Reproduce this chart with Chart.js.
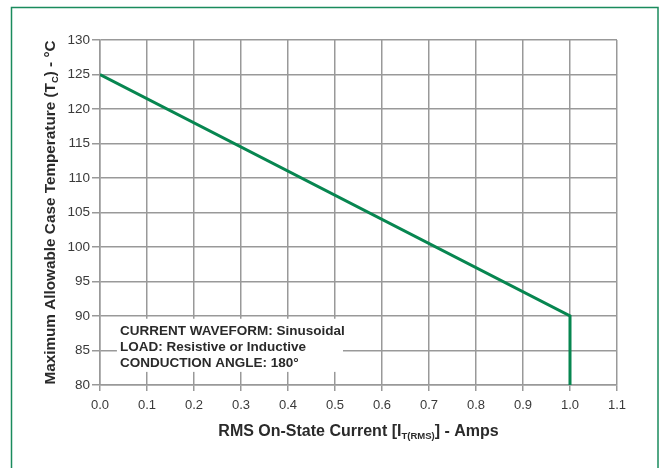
<!DOCTYPE html>
<html>
<head>
<meta charset="utf-8">
<script src="https://cdn.jsdelivr.net/npm/chart.js@4"></script>
<style>
  html, body { margin: 0; padding: 0; background: #fff; }
  #wrap { width: 662px; height: 468px; }
</style>
</head>
<body>
<div id="wrap"><canvas id="chart" width="662" height="468"></canvas></div>
<script>
// Curve: case temperature vs RMS on-state current
const currentAmps = [0.0, 1.0, 1.0];
const caseTempC = [125, 90, 80];

// Axis ranges
const xRange = [0, 1.1];
const yRange = [80, 130];

// Notes printed inside the plot
const noteLines = [
  "CURRENT WAVEFORM: Sinusoidal",
  "LOAD: Resistive or Inductive",
  "CONDUCTION ANGLE: 180°",
];

const gridColor = "#999999";
const curveColor = "#078650";
const frameColor = "#1a8b5d";
const font = "'Liberation Sans', Arial, Helvetica, sans-serif";

// draw text runs with subscript parts: [[text, isSub], ...]
function runsWidth(ctx, runs, size, subSize) {
  let w = 0;
  runs.forEach(([t, sub]) => {
    ctx.font = "bold " + (sub ? subSize : size) + "px " + font;
    w += ctx.measureText(t).width;
  });
  return w;
}
function drawRuns(ctx, runs, x, y, size, subSize) {
  runs.forEach(([t, sub]) => {
    ctx.font = "bold " + (sub ? subSize : size) + "px " + font;
    ctx.fillText(t, x, sub ? y + 4 : y);
    x += ctx.measureText(t).width;
  });
}

const decorations = {
  id: "decorations",
  beforeDraw(chart) {
    const ctx = chart.ctx;
    ctx.save();
    ctx.strokeStyle = frameColor;
    ctx.lineWidth = 1.5;
    ctx.strokeRect(11.5, 7.5, 646.5, 480);
    ctx.restore();
  },
  beforeDatasetsDraw(chart) {
    const ctx = chart.ctx;
    const xs = chart.scales.x, ys = chart.scales.y;
    // white note box over the grid
    const left = xs.getPixelForValue(0.036);
    const right = xs.getPixelForValue(0.517);
    const top = ys.getPixelForValue(89.6);
    const bottom = ys.getPixelForValue(81.9);
    ctx.save();
    ctx.fillStyle = "#fff";
    ctx.fillRect(left, top, right - left, bottom - top);
    ctx.fillStyle = "#2a2a2a";
    ctx.font = "bold 13.5px " + font;
    ctx.textBaseline = "middle";
    noteLines.forEach((t, i) => ctx.fillText(t, left + 3, top + 12.5 + i * 16));
    ctx.restore();
  },
  afterDraw(chart) {
    const ctx = chart.ctx;
    const a = chart.chartArea;
    ctx.save();
    ctx.fillStyle = "#2a2a2a";
    ctx.textBaseline = "middle";
    // x axis title
    const xRuns = [["RMS On-State Current [I", false], ["T(RMS)", true], ["] - Amps", false]];
    const xw = runsWidth(ctx, xRuns, 16, 9.5);
    drawRuns(ctx, xRuns, (a.left + a.right) / 2 - xw / 2, 432, 16, 9.5);
    // y axis title
    const yRuns = [["Maximum Allowable Case Temperature (T", false], ["C", true], [") - °C", false]];
    const yw = runsWidth(ctx, yRuns, 15.3, 9.5);
    ctx.translate(51, (a.top + a.bottom) / 2);
    ctx.rotate(-Math.PI / 2);
    drawRuns(ctx, yRuns, -yw / 2, 0, 15.3, 9.5);
    ctx.restore();
  },
};

new Chart(document.getElementById("chart"), {
  type: "line",
  data: {
    datasets: [
      {
        data: currentAmps.map((x, i) => ({ x: x, y: caseTempC[i] })),
        borderColor: curveColor,
        borderWidth: 3,
        pointRadius: 0,
        fill: false,
        tension: 0,
      },
    ],
  },
  options: {
    responsive: false,
    animation: false,
    layout: { padding: { left: 0, top: 40, right: 45, bottom: 0 } },
    plugins: {
      legend: { display: false },
      tooltip: { enabled: false },
    },
    scales: {
      x: {
        type: "linear",
        min: xRange[0],
        max: xRange[1],
        afterFit: (scale) => { scale.height = 83; },
        grid: { color: gridColor, lineWidth: 1.5, tickLength: 6 },
        border: { color: gridColor, width: 1.5 },
        ticks: {
          stepSize: 0.1,
          padding: 7,
          color: "#3a3a3a",
          font: { family: font, size: 13 },
          callback: (v) => v.toFixed(1),
        },
      },
      y: {
        min: yRange[0],
        max: yRange[1],
        afterFit: (scale) => { scale.width = 100; },
        grid: { color: gridColor, lineWidth: 1.5, tickLength: 8 },
        border: { color: gridColor, width: 1.5 },
        ticks: {
          stepSize: 5,
          padding: 2,
          color: "#3a3a3a",
          font: { family: font, size: 13.5 },
        },
      },
    },
  },
  plugins: [decorations],
});
</script>
</body>
</html>
